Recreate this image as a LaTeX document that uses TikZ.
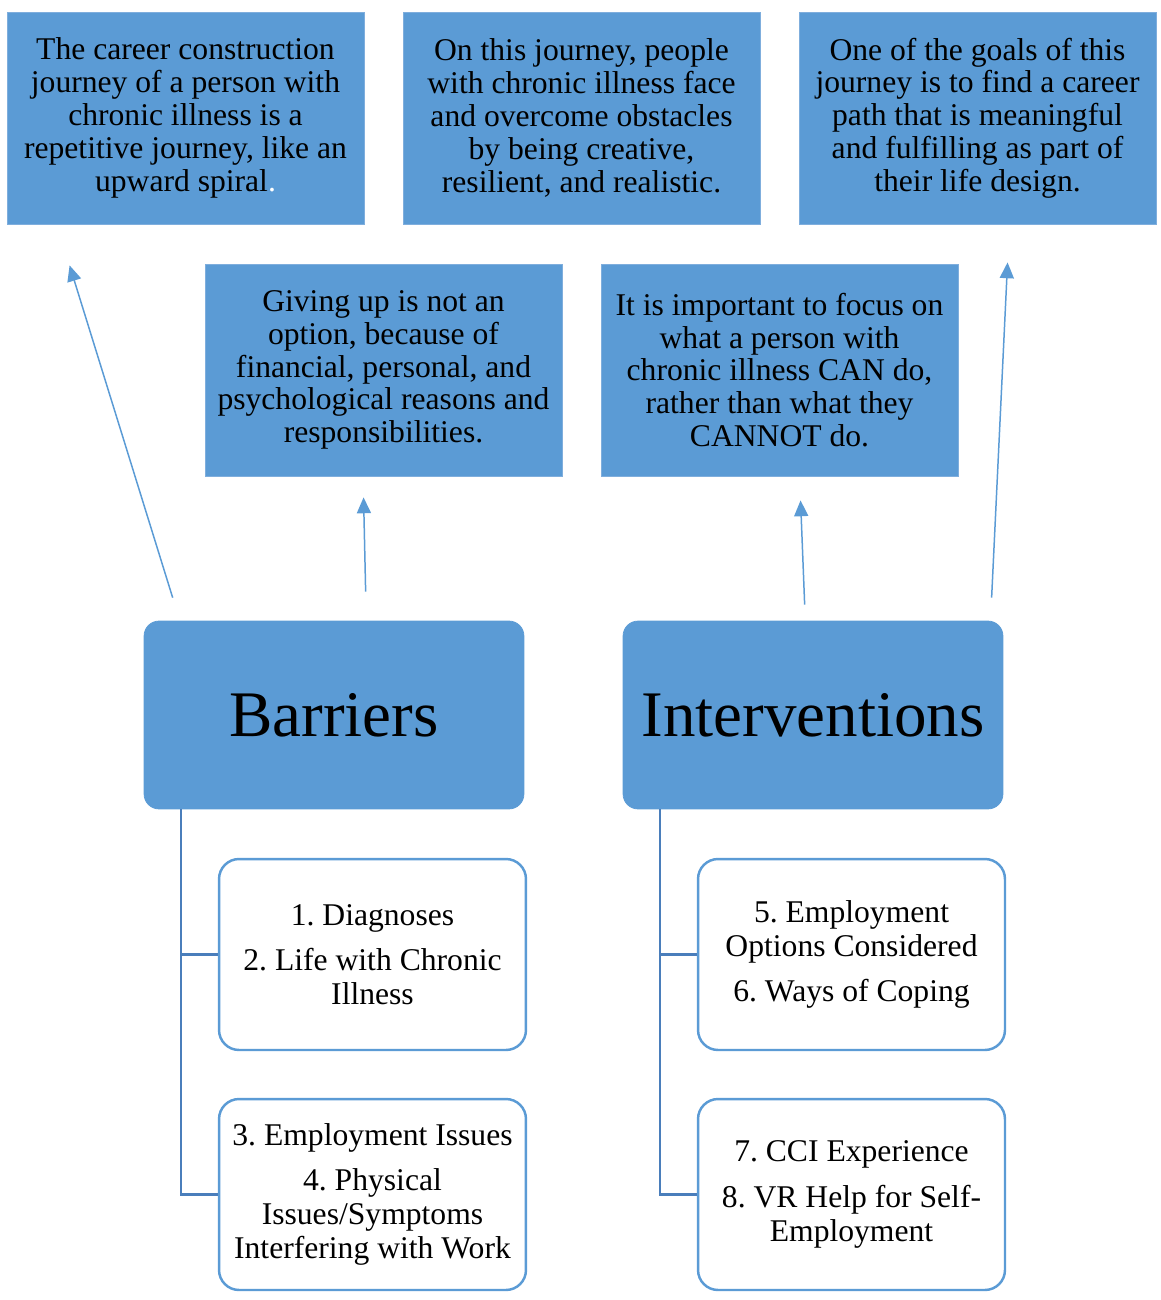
\documentclass[tikz,border=0pt]{standalone}
\usepackage{fontspec}
\setmainfont{Liberation Serif}
\usetikzlibrary{arrows.meta}
\definecolor{blu}{HTML}{5B9BD5}
\definecolor{blubordo}{HTML}{7FAEDD}
\definecolor{blulinea}{HTML}{4A7EBB}
\frenchspacing

\begin{document}
\begin{tikzpicture}[x=0.02cm,y=-0.02cm,
  nota/.style={rectangle,fill=blu,draw=blubordo,line width=0.5pt,inner sep=0pt,
    minimum width=7.14cm,minimum height=4.24cm,align=center,
    font=\fontsize{18}{18.7}\selectfont},
  tema/.style={rectangle,rounded corners=0.3cm,fill=blu,draw=blu,inner sep=0pt,
    minimum width=7.6cm,minimum height=3.76cm,font=\fontsize{37}{40}\selectfont},
  voce/.style={rectangle,rounded corners=0.4cm,fill=white,draw=blu,line width=1.4pt,
    inner sep=0pt,minimum width=6.14cm,minimum height=3.82cm,align=center,
    font=\fontsize{18}{19.3}\selectfont},
  ramo/.style={draw=blulinea,line width=1.3pt},
  freccia/.style={draw=blu,line width=0.85pt,-{Triangle[width=8pt,length=9pt]}}]
\useasboundingbox (0,0) rectangle (1160,1300); % area della figura

% note in alto
\node[nota] (n1) at (185.5,118) {The career construction\\journey of a person with\\chronic illness is a\\repetitive journey, like an\\upward spiral{\color{white}.}};
\node[nota] (n2) at (581.5,118) {On this journey, people\\with chronic illness face\\and overcome obstacles\\by being creative,\\resilient, and realistic.};
\node[nota] (n3) at (977.5,118) {One of the goals of this\\journey is to find a career\\path that is meaningful\\and fulfilling as part of\\their life design.};
\node[nota] (n4) at (383.5,370) {Giving up is not an\\option, because of\\financial, personal, and\\psychological reasons and\\responsibilities.};
\node[nota] (n5) at (779.5,370) {It is important to focus on\\what a person with\\chronic illness CAN do,\\rather than what they\\CANNOT do.};

% temi principali
\node[tema] (barr) at (334,715) {Barriers};
\node[tema] (interv) at (813,715) {Interventions};

% voci
\node[voce] (v1) at (372.5,954.5) {1. Diagnoses\\[6.5pt]2. Life with Chronic\\Illness};
\node[voce] (v2) at (372.5,1194.5) {3. Employment Issues\\[6.5pt]4. Physical\\Issues/Symptoms\\Interfering with Work};
\node[voce] (v3) at (851.5,954.5) {5. Employment\\Options Considered\\[6.5pt]6. Ways of Coping};
\node[voce] (v4) at (851.5,1194.5) {7. CCI Experience\\[6.5pt]8. VR Help for Self-\\Employment};

% rami
\draw[ramo] ([xshift=0.74cm]barr.south west) |- (v1.west);
\draw[ramo] ([xshift=0.74cm]barr.south west) |- (v2.west);
\draw[ramo] ([xshift=0.74cm]interv.south west) |- (v3.west);
\draw[ramo] ([xshift=0.74cm]interv.south west) |- (v4.west);

% frecce verso le note
\draw[freccia] ([xshift=0.58cm,yshift=0.46cm]barr.north west) -- ([xshift=1.26cm,yshift=-0.82cm]n1.south west);
\draw[freccia] ([xshift=4.44cm,yshift=0.58cm]barr.north west) -- ([xshift=3.18cm,yshift=-0.42cm]n4.south west);
\draw[freccia] ([xshift=3.64cm,yshift=0.32cm]interv.north west) -- ([xshift=4.0cm,yshift=-0.48cm]n5.south west);
\draw[freccia] ([xshift=7.38cm,yshift=0.46cm]interv.north west) -- ([xshift=4.18cm,yshift=-0.76cm]n3.south west);
\end{tikzpicture}
\end{document}
